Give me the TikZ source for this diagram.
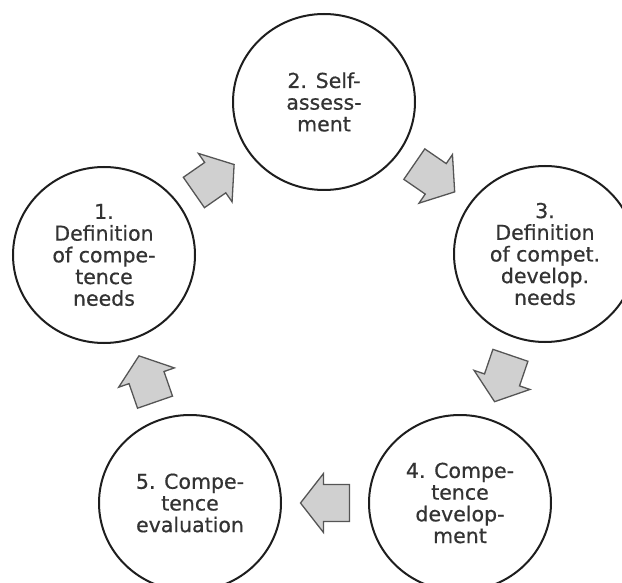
\documentclass[tikz,border=0pt]{standalone}
\usepackage{fontspec}
\setmainfont[FakeBold=0.6]{DejaVu Sans}
\usetikzlibrary{calc,shapes.geometric}
\definecolor{txtcol}{HTML}{333333}
\definecolor{ringcol}{HTML}{1E1E1E}
\definecolor{arrfill}{HTML}{D0D0D0}
\definecolor{arrline}{HTML}{555555}
\tikzset{
  stage/.style={ellipse, draw=ringcol, line width=2pt, minimum width=182pt, minimum height=176pt,
    inner sep=0pt, align=center, text=txtcol, font=\fontsize{20.5}{21.7}\selectfont},
  arrowstyle/.style={draw=arrline, fill=arrfill, line width=1.3pt, line join=miter},
  barrow/.pic={\draw[arrowstyle] (-24.5pt,-18.5pt) -- (1.5pt,-18.5pt) -- (1.5pt,-29.5pt)
      -- (24.5pt,0pt) -- (1.5pt,29.5pt) -- (1.5pt,18.5pt) -- (-24.5pt,18.5pt) -- cycle;}
}
\begin{document}
\begin{tikzpicture}[x=1pt,y=-1pt]
\useasboundingbox (0,0) rectangle (622,583);
\clip (0,0) rectangle (622,583);
\node[stage] (c1) at (104,255) {1.\\Definition\\of compe-\\tence\\needs};
\node[stage] (c2) at (324,102) {2. Self-\\assess-\\ment};
\node[stage] (c3) at (545,254) {3.\\Definition\\of compet.\\develop.\\needs};
\node[stage] (c4) at (460,503) {4. Compe-\\tence\\develop-\\ment};
\node[stage] (c5) at (190,503) {5. Compe-\\tence\\evaluation};
\foreach \a/\b in {c1/c2,c2/c3,c3/c4,c4/c5,c5/c1}{
  \path let \p1=($(\b)-(\a)$), \n1={atan2(\y1,\x1)} in
    pic[rotate=\n1] at ($(\a)!0.5!(\b)$) {barrow};
}
\end{tikzpicture}
\end{document}
